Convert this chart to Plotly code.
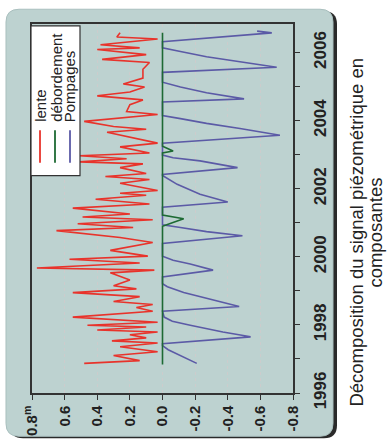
import plotly.graph_objects as go

# ---------------- data ----------------
RED_T = [1996.87, 1996.95, 1997.10, 1997.21, 1997.36, 1997.47, 1997.53, 1997.62, 1997.71, 1997.79,
         1997.85, 1997.94, 1997.99, 1998.08, 1998.23, 1998.40, 1998.51, 1998.60, 1998.69, 1998.83,
         1998.95, 1999.06, 1999.15, 1999.32, 1999.53, 1999.61, 1999.67, 1999.82, 1999.93, 2000.02,
         2000.19, 2000.42, 2000.57, 2000.77, 2000.86, 2000.97, 2001.09, 2001.17, 2001.26, 2001.43,
         2001.55, 2001.69, 2001.81, 2001.87, 2001.95, 2002.04, 2002.16, 2002.27, 2002.36, 2002.45,
         2002.62, 2002.73, 2002.79, 2002.88, 2002.97, 2003.05, 2003.23, 2003.34, 2003.66, 2003.75,
         2003.83, 2003.98, 2004.18, 2004.27, 2004.47, 2004.61, 2004.73, 2004.84, 2004.99, 2005.08,
         2005.25, 2005.51, 2005.71, 2005.80, 2005.94, 2006.09, 2006.14, 2006.23, 2006.32, 2006.40,
         2006.46, 2006.58]
RED_V = [0.48, 0.14, 0.30, 0.03, 0.26, 0.03, 0.31, 0.10, 0.20, 0.03,
         0.40, 0.10, 0.46, 0.03, 0.55, 0.06, 0.16, 0.06, 0.30, 0.14,
         0.55, 0.16, 0.30, 0.20, 0.32, 0.05, 0.77, 0.14, 0.57, 0.09,
         0.32, 0.06, 0.26, 0.65, 0.18, 0.52, 0.06, 0.49, 0.20, 0.55,
         0.08, 0.41, 0.10, 0.26, 0.03, 0.14, 0.26, 0.08, 0.35, 0.10,
         0.26, 0.12, 0.51, 0.22, 0.51, 0.08, 0.26, 0.03, 0.34, 0.10,
         0.30, 0.48, 0.03, 0.22, 0.20, 0.12, 0.40, 0.20, 0.11, 0.24,
         0.12, 0.12, 0.08, 0.37, 0.10, 0.40, 0.14, 0.38, 0.20, 0.03,
         0.28, 0.26]

BLUE_T = [1996.87, 1997.13, 1997.27, 1997.39, 1997.45, 1997.65, 1997.79, 1997.99, 1998.11, 1998.23,
          1998.40, 1998.54, 1998.77, 1998.95, 1999.12, 1999.21, 1999.41, 1999.61, 1999.79, 1999.90,
          2000.02, 2000.39, 2000.62, 2000.74, 2000.86, 2000.94, 2001.46, 2001.61, 2001.84, 2002.13,
          2002.39, 2002.42, 2002.62, 2002.82, 2002.91, 2002.99, 2003.34, 2003.57, 2003.77, 2003.92,
          2004.06, 2004.15, 2004.55, 2004.64, 2004.82, 2004.99, 2005.13, 2005.42, 2005.57, 2005.74,
          2005.88, 2006.03, 2006.14, 2006.32, 2006.58, 2006.63]
BLUE_V = [-0.21, -0.095, -0.035, 0.0, 0.0, -0.54, -0.37, -0.17, -0.06, -0.01,
          0.0, -0.47, -0.27, -0.13, -0.03, 0.0, 0.0, -0.31, -0.17, -0.065,
          0.0, 0.0, -0.49, -0.27, -0.11, 0.0, 0.0, -0.40, -0.23, -0.09,
          0.0, 0.0, -0.46, -0.23, -0.065, 0.0, 0.0, -0.72, -0.475, -0.27,
          -0.11, 0.0, 0.0, -0.50, -0.27, -0.11, 0.0, 0.0, -0.70, -0.475,
          -0.27, -0.11, 0.0, 0.0, -0.67, -0.58]

GREEN_T = [1996.84, 2000.90, 2001.00, 2001.12, 2001.23, 2003.05, 2003.11, 2003.25, 2006.58]
GREEN_V = [0.0, 0.0, -0.06, -0.13, 0.0, 0.0, -0.065, 0.0, 0.0]

SERIES_NAMES = ["lente", "débordement", "Pompages"]
SERIES_COLORS = ["#e8332b", "#1d6a33", "#5b5aa6"]

VALUE_TICKS = [0.8, 0.6, 0.4, 0.2, 0.0, -0.2, -0.4, -0.6, -0.8]
VALUE_LABELS = ["0.8<sup>m</sup>", "0.6", "0.4", "0.2", "0.0", "-0.2", "-0.4", "-0.6", "-0.8"]
YEAR_TICKS = [1996, 1998, 2000, 2002, 2004, 2006]
YEAR_LABELS = ["1996", "1998", "2000", "2002", "2004", "2006"]
GRID_YEARS = [1998, 2000, 2002, 2006]

CAPTION_1 = "Décomposition du signal piézométrique en"
CAPTION_2 = "composantes"

# ---------------- geometry helpers (pixel -> paper) ----------------
ML, MR, MT, MB = 32, 94, 24, 49
W, H = 387, 448
PW, PH = W - ML - MR, H - MT - MB


def px(x):
    return (x - ML) / PW


def py(y):
    return (H - MB - y) / PH


def rounded_rect(x0, y0, x1, y1, r):
    pts = [
        ("M", px(x0 + r), py(y0)),
        ("L", px(x1 - r), py(y0)),
        ("Q", px(x1), py(y0), px(x1), py(y0 + r)),
        ("L", px(x1), py(y1 - r)),
        ("Q", px(x1), py(y1), px(x1 - r), py(y1)),
        ("L", px(x0 + r), py(y1)),
        ("Q", px(x0), py(y1), px(x0), py(y1 - r)),
        ("L", px(x0), py(y0 + r)),
        ("Q", px(x0), py(y0), px(x0 + r), py(y0)),
    ]
    s = ""
    for p in pts:
        s += p[0] + " " + " ".join(f"{v:.5f}" for v in p[1:]) + " "
    return s + "Z"


fig = go.Figure()
fig.add_trace(go.Scatter(x=BLUE_V, y=BLUE_T, mode="lines", name=SERIES_NAMES[2],
                         line=dict(color=SERIES_COLORS[2], width=1.6)))
fig.add_trace(go.Scatter(x=RED_V, y=RED_T, mode="lines", name=SERIES_NAMES[0],
                         line=dict(color=SERIES_COLORS[0], width=1.6)))
fig.add_trace(go.Scatter(x=GREEN_V, y=GREEN_T, mode="lines", name=SERIES_NAMES[1],
                         line=dict(color=SERIES_COLORS[1], width=1.6)))

yr = [1996, 2006.84]
tickfont_v = dict(family="Liberation Sans, Arial, sans-serif", size=15, color="#222", weight="bold")
tickfont_y = dict(family="Liberation Sans, Arial, sans-serif", size=17, color="#222", weight="bold")

shapes = [
    # shadow and frame
    dict(type="path", xref="paper", yref="paper", path=rounded_rect(10, 11, 337, 445, 13),
         fillcolor="#2a2a2a", line=dict(width=0), layer="below"),
    dict(type="path", xref="paper", yref="paper", path=rounded_rect(6, 9, 333, 443, 13),
         fillcolor="rgb(189,210,208)", line=dict(color="#a9bfbe", width=1), layer="below"),
    # legend box
    dict(type="rect", xref="paper", yref="paper", x0=px(31), x1=px(80), y0=py(178), y1=py(26),
         fillcolor="white", line=dict(color="#333", width=1.2), layer="above"),
]
legend_x = [40, 55, 70]
for xc, col in zip(legend_x, SERIES_COLORS):
    shapes.append(dict(type="line", xref="paper", yref="paper", x0=px(xc), x1=px(xc),
                       y0=py(165), y1=py(132), line=dict(color=col, width=1.8), layer="above"))

annotations = []
for xc, name in zip([41, 57, 69], SERIES_NAMES):
    annotations.append(dict(text=name, xref="paper", yref="paper", x=px(xc), y=py(126),
                            xanchor="center", yanchor="bottom", textangle=-90, showarrow=False,
                            font=dict(family="Liberation Sans, Arial, sans-serif", size=15, color="#222")))
annotations.append(dict(text=CAPTION_1, xref="paper", yref="paper", x=px(357), y=py(236),
                        xanchor="center", yanchor="middle", textangle=-90, showarrow=False,
                        font=dict(family="Liberation Sans, Arial, sans-serif", size=18.5, color="#222")))
annotations.append(dict(text=CAPTION_2, xref="paper", yref="paper", x=px(376), y=py(236),
                        xanchor="center", yanchor="middle", textangle=-90, showarrow=False,
                        font=dict(family="Liberation Sans, Arial, sans-serif", size=18.5, color="#222")))

fig.update_layout(
    width=W, height=H, margin=dict(l=ML, r=MR, t=MT, b=MB, pad=0),
    paper_bgcolor="white", plot_bgcolor="#fffffa", showlegend=False,
    xaxis=dict(range=[0.8, -0.8], tickmode="array", tickvals=VALUE_TICKS, ticktext=VALUE_LABELS,
               ticks="outside", ticklen=5, tickwidth=1.3, tickcolor="#333", tickangle=-90,
               tickfont=tickfont_v, showline=True, linecolor="#333", linewidth=1.5, mirror=True,
               showgrid=True, gridcolor="#cccccc", griddash="dot", gridwidth=1, zeroline=False),
    yaxis=dict(range=yr, side="right", tickmode="array", tickvals=YEAR_TICKS, ticktext=YEAR_LABELS,
               ticks="outside", ticklen=5, tickwidth=1.3, tickcolor="#333", tickangle=-90,
               minor=dict(dtick=1, tick0=1996, ticks="outside", ticklen=5, tickwidth=1.3,
                          tickcolor="#333", showgrid=False),
               tickfont=tickfont_y, ticklabelstandoff=6, showline=True, linecolor="#333",
               linewidth=1.5, mirror=True, showgrid=False, zeroline=False),
    yaxis2=dict(range=yr, overlaying="y", side="right", tickmode="linear", tick0=1996, dtick=1,
                ticks="inside", ticklen=6, tickwidth=1.3, tickcolor="#333", showticklabels=False,
                showgrid=False, showline=False, zeroline=False),
    yaxis3=dict(range=yr, overlaying="y", side="left", tickmode="array", tickvals=GRID_YEARS,
                ticks="", showticklabels=False, showgrid=True, gridcolor="#8a8a8a", griddash="dot",
                gridwidth=1.2, showline=False, zeroline=False),
    shapes=shapes, annotations=annotations,
)

fig.write_html("out.html")
